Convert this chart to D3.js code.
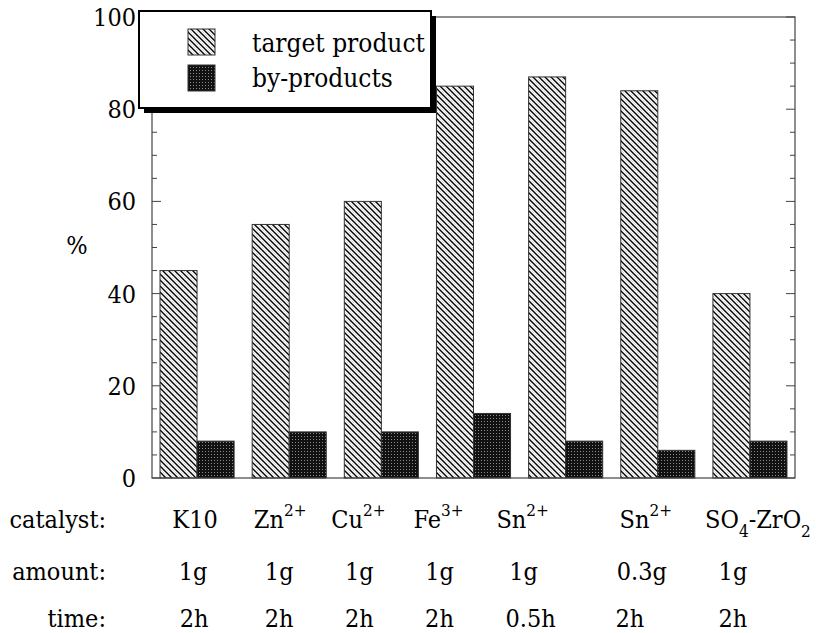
<!DOCTYPE html>
<html><head><meta charset="utf-8">
<script src="https://cdn.jsdelivr.net/npm/d3@7"></script>
<style>body{margin:0;background:#fff}svg{display:block}</style>
</head><body><svg id="c" width="816" height="633"></svg>
<script>
// ---- data ----
const catalysts = [
  [["K10","n"]],
  [["Zn","n"],["2+","sup"]],
  [["Cu","n"],["2+","sup"]],
  [["Fe","n"],["3+","sup"]],
  [["Sn","n"],["2+","sup"]],
  [["Sn","n"],["2+","sup"]],
  [["SO","n"],["4","sub"],["-ZrO","n"],["2","sub"]]
];
const amounts = ["1g","1g","1g","1g","1g","0.3g","1g"];
const times = ["2h","2h","2h","2h","0.5h","2h","2h"];
const targetProduct = [45,55,60,85,87,84,40];
const byProducts = [8,10,10,14,8,6,8];
const seriesNames = ["target product","by-products"];
const yTicks = [0,20,40,60,80,100];
const rowLabels = ["catalyst:","amount:","time:"];

// ---- layout ----
const FONT = "'DejaVu Serif Condensed', 'DejaVu Serif', serif";
const svg = d3.select("#c");
const X0 = 152, X1 = 795, YB = 478, YT = 17;
const FS = 25;
const idx = d3.range(catalysts.length);
const x = d3.scaleBand().domain(idx).range([X0, X1]).paddingInner(0.196).paddingOuter(0.087);
const xs = d3.scaleBand().domain([0,1]).range([0, x.bandwidth()]);
const y = d3.scaleLinear().domain([0,100]).range([YB, YT]);
const txt = (sel) => sel.style("font-family", FONT).attr("fill", "#000");

const defs = svg.append("defs");
const ph = defs.append("pattern").attr("id","hatch").attr("patternUnits","userSpaceOnUse")
  .attr("width",6).attr("height",6);
ph.append("rect").attr("width",6).attr("height",6).attr("fill","#fff");
ph.append("path").attr("d","M-1,-1L7,7M-1,5L1,7M5,-1L7,1").attr("stroke","#000").attr("stroke-width",1.4);
ph.append("path").attr("d","M2,-1L7,4M-1,2L4,7").attr("stroke","#888").attr("stroke-width",0.8).attr("stroke-dasharray","1,1.5");
const pd = defs.append("pattern").attr("id","dots").attr("patternUnits","userSpaceOnUse")
  .attr("width",3).attr("height",3);
pd.append("rect").attr("width",3).attr("height",3).attr("fill","#111");
pd.append("rect").attr("x",1).attr("y",1).attr("width",1).attr("height",1).attr("fill","#8a8a8a");

const fills = ["url(#hatch)","url(#dots)"];
const series = [targetProduct, byProducts];

// bars
series.forEach((vals, s) => {
  svg.append("g").selectAll("rect").data(vals).join("rect")
    .attr("x", (d,i) => x(i) + xs(s))
    .attr("y", d => y(d))
    .attr("width", xs.bandwidth())
    .attr("height", d => y(0) - y(d))
    .attr("fill", fills[s])
    .attr("stroke", "#333").attr("stroke-width", 1);
});

// frame
svg.append("rect").attr("x",X0).attr("y",YT).attr("width",X1-X0).attr("height",YB-YT)
  .attr("fill","none").attr("stroke","#444").attr("stroke-width",1.2);

// ticks: minor every 5, major every 20, both sides, pointing inward
const minor = d3.range(0,101,5);
const gL = svg.append("g");
minor.forEach(v => {
  const len = v % 20 === 0 ? 9 : 5;
  gL.append("line").attr("x1",X0).attr("x2",X0+len).attr("y1",y(v)).attr("y2",y(v)).attr("stroke","#444").attr("stroke-width",1);
  gL.append("line").attr("x1",X1).attr("x2",X1-len).attr("y1",y(v)).attr("y2",y(v)).attr("stroke","#444").attr("stroke-width",1);
});

// y tick labels
svg.append("g").selectAll("text").data(yTicks).join("text")
  .attr("x", X0 - 16).attr("y", d => y(d) + 9)
  .attr("text-anchor","end").attr("font-size",FS).call(txt).text(d => d);
svg.append("text").attr("x",77).attr("y",254).attr("text-anchor","middle").attr("font-size",FS).call(txt).text("%");

// legend
const LX = 139, LY = 11, LW = 292, LH = 97;
svg.append("rect").attr("x",LX+5).attr("y",LY+5).attr("width",LW).attr("height",LH).attr("fill","#000");
svg.append("rect").attr("x",LX).attr("y",LY).attr("width",LW).attr("height",LH).attr("fill","#fff").attr("stroke","#000").attr("stroke-width",2);
seriesNames.forEach((n, s) => {
  svg.append("rect").attr("x",188).attr("y",29 + s*36).attr("width",27).attr("height",26)
    .attr("fill",fills[s]).attr("stroke","#333").attr("stroke-width",1);
  svg.append("text").attr("x",252).attr("y",52 + s*35).attr("font-size",26).call(txt).text(n);
});

// bottom table (label offsets from band centres, as placed in the original)
const rowY = [528, 580, 627];
const offCat = [-2, -9, -23, -35, -43, -12, 8];
const offAmt = [-4, -10, -22, -34, -42, -16, -17];
const offTime = [-3, -10, -22, -34, -35, -28, -17];
rowLabels.forEach((r,k) => {
  svg.append("text").attr("x",106).attr("y",rowY[k]).attr("text-anchor","end").attr("font-size",FS).call(txt).text(r);
});
const cx = i => x(i) + x.bandwidth()/2;
idx.forEach(i => {
  const t = svg.append("text").attr("x", cx(i) + offCat[i]).attr("y", rowY[0]).attr("text-anchor","middle").attr("font-size",FS).call(txt);
  let shift = 0;
  catalysts[i].forEach(([s, k]) => {
    const ts = t.append("tspan").text(s);
    if (k === "sup") { ts.attr("font-size",17).attr("dy",-12 - shift); shift = -12; }
    else if (k === "sub") { ts.attr("font-size",17).attr("dy",9 - shift); shift = 9; }
    else { ts.attr("dy", -shift); shift = 0; }
  });
  svg.append("text").attr("x", cx(i) + offAmt[i]).attr("y", rowY[1]).attr("text-anchor","middle").attr("font-size",FS).call(txt).text(amounts[i]);
  svg.append("text").attr("x", cx(i) + offTime[i]).attr("y", rowY[2]).attr("text-anchor","middle").attr("font-size",FS).call(txt).text(times[i]);
});
</script></body></html>
